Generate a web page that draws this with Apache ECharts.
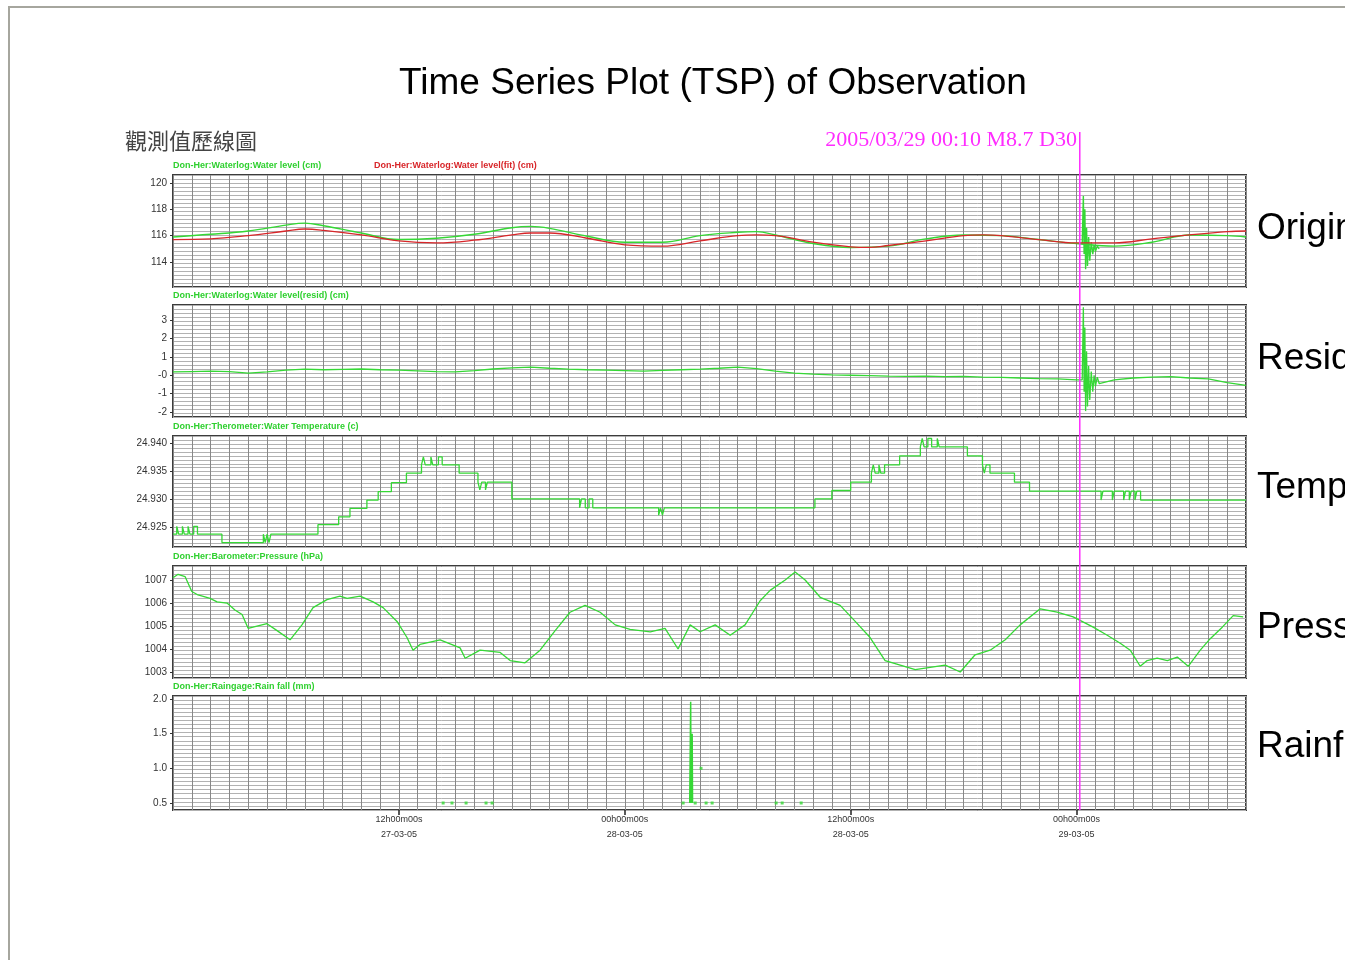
<!DOCTYPE html>
<html>
<head>
<meta charset="utf-8">
<title>Time Series Plot (TSP) of Observation</title>
<script src="https://cdn.jsdelivr.net/npm/echarts@6/dist/echarts.min.js"></script>
<style>
html, body { margin: 0; padding: 0; background: #fff; }
#chart { width: 1345px; height: 960px; }
</style>
</head>
<body>
<div id="chart"></div>
<script>
// time axis: hours counted from 27-03-05 00h00m00s
const timeTicks = [12, 24, 36, 48]
const timeTickLabels = ['12h00m00s\n27-03-05', '00h00m00s\n28-03-05', '12h00m00s\n28-03-05', '00h00m00s\n29-03-05']
const quakeHour = 48.17
const quakeText = '2005/03/29 00:10 M8.7 D30'

const panelNames = ['Original', 'Residual', 'Temperature', 'Pressure', 'Rainfall']
const panelTitles = [
  'Don-Her:Waterlog:Water level (cm)',
  'Don-Her:Waterlog:Water level(resid) (cm)',
  'Don-Her:Therometer:Water Temperature (c)',
  'Don-Her:Barometer:Pressure (hPa)',
  'Don-Her:Raingage:Rain fall (mm)',
]
const fitTitle = 'Don-Her:Waterlog:Water level(fit) (cm)'

// y tick labels per panel
const levelTicks = [114, 116, 118, 120]
const residTicks = [-2, -1, 0, 1, 2, 3]
const tempTicks = [24.925, 24.930, 24.935, 24.940]
const pressTicks = [1003, 1004, 1005, 1006, 1007]
const rainTicks = [0.5, 1.0, 1.5, 2.0]

// water level, observed
const levelHours = [0, 2, 4, 6, 7, 8, 10, 12, 14, 16, 18, 19, 20, 22, 24, 26, 28, 30, 31, 32, 34, 36, 38, 40, 42, 44, 46, 48, 50, 52, 54, 56, 57]
const levelObs = [115.9, 116.1, 116.35, 116.8, 116.95, 116.75, 116.2, 115.7, 115.8, 116.1, 116.6, 116.7, 116.55, 115.95, 115.5, 115.5, 116.0, 116.25, 116.3, 116.05, 115.4, 115.1, 115.2, 115.75, 116.05, 116.0, 115.7, 115.4, 115.2, 115.5, 116.05, 116.0, 115.9]
// water level, fitted (tide)
const fitHours = [0, 2, 4, 6, 7, 8, 10, 12, 14, 16, 18, 19, 20, 22, 24, 26, 28, 30, 31, 32, 34, 36, 37, 38, 40, 42, 43, 44, 46, 48, 50, 52, 54, 56, 57]
const fitValues = [115.7, 115.75, 116.0, 116.35, 116.5, 116.4, 116.05, 115.6, 115.45, 115.65, 116.05, 116.2, 116.2, 115.8, 115.3, 115.2, 115.6, 116.0, 116.05, 116.0, 115.5, 115.15, 115.1, 115.25, 115.6, 116.0, 116.05, 116.0, 115.7, 115.45, 115.45, 115.75, 116.05, 116.3, 116.35]
// seismic oscillation after the quake
const spikeHours = [48.3, 48.36, 48.4, 48.44, 48.48, 48.53, 48.58, 48.64, 48.7, 48.78, 48.86, 48.93, 49.0, 49.1, 49.2]
const levelSpike = [115.35, 119.0, 114.6, 118.0, 113.45, 116.6, 113.7, 115.9, 114.1, 115.5, 114.6, 115.3, 114.8, 115.2, 115.0]

// residual
const residHours = [0, 1, 2, 3, 4, 5, 6, 7, 8, 9, 10, 11, 12, 13, 14, 15, 16, 17, 18, 19, 20, 21, 22, 23, 24, 25, 26, 27, 28, 29, 30, 31, 32, 33, 34, 35, 36, 37, 38, 39, 40, 41, 42, 43, 44, 45, 46, 47, 48,
  48.3, 48.36, 48.4, 48.44, 48.48, 48.53, 48.58, 48.64, 48.7, 48.78, 48.86, 48.93,
  49, 49.1, 49.2, 50, 51, 52, 53, 54, 55, 56, 57]
const residValues = [0.18, 0.2, 0.22, 0.2, 0.12, 0.18, 0.28, 0.33, 0.3, 0.32, 0.34, 0.3, 0.28, 0.24, 0.2, 0.18, 0.25, 0.34, 0.4, 0.44, 0.38, 0.33, 0.3, 0.28, 0.25, 0.22, 0.26, 0.3, 0.33, 0.38, 0.44, 0.36, 0.22, 0.12, 0.06, 0.02, 0.0, -0.02, -0.05, -0.06, -0.05, -0.08, -0.06, -0.1, -0.12, -0.15, -0.18, -0.2, -0.25,
  -0.25, 3.7, -0.9, 2.6, -1.95, 1.3, -1.7, 0.5, -1.35, 0.2, -0.9, 0.0,
  -0.6, -0.1, -0.45, -0.25, -0.15, -0.1, -0.08, -0.15, -0.2, -0.4, -0.55]

// water temperature (stepped)
const tempHours = [0, 0.2, 0.3, 0.5, 0.6, 0.8, 0.9, 1.1, 1.3, 2.6, 4.8, 4.9, 5.0, 5.1, 5.2, 7.7, 8.8, 9.4, 10.3, 10.9, 11.6, 12.4, 13.2, 13.3, 13.4, 13.7, 13.8, 14.1, 14.3, 15.2, 16.2, 16.3, 16.4, 16.6, 16.7, 18.0, 21.6, 21.7, 21.9, 22.1, 22.3, 25.8, 25.9, 26.0, 26.1, 34.1, 35.0, 36.0, 37.1, 37.2, 37.3, 37.5, 37.6, 37.8, 38.6, 39.7, 39.8, 39.9, 40.1, 40.3, 40.6, 40.7, 42.2, 43.0, 43.1, 43.2, 43.4, 44.7, 45.5, 49.3, 49.4, 49.9, 50.0, 50.5, 50.6, 50.8, 50.9, 51.1, 51.2, 51.4, 57]
const tempValues = [24.9237, 24.9251, 24.9237, 24.9251, 24.9237, 24.9251, 24.9237, 24.9251, 24.9237, 24.9222, 24.9237, 24.9222, 24.9237, 24.9222, 24.9237, 24.9254, 24.9268, 24.9283, 24.9298, 24.9313, 24.9329, 24.9346, 24.9361, 24.9375, 24.9361, 24.9375, 24.9361, 24.9375, 24.9361, 24.9346, 24.9330, 24.9316, 24.9330, 24.9316, 24.9330, 24.9300, 24.9284, 24.9300, 24.9284, 24.9300, 24.9284, 24.9271, 24.9284, 24.9271, 24.9284, 24.9300, 24.9315, 24.9330, 24.9346, 24.9361, 24.9346, 24.9361, 24.9346, 24.9361, 24.9377, 24.9393, 24.9408, 24.9393, 24.9408, 24.9393, 24.9408, 24.9393, 24.9377, 24.9361, 24.9346, 24.9361, 24.9346, 24.9330, 24.9314, 24.9298, 24.9314, 24.9298, 24.9314, 24.9298, 24.9314, 24.9298, 24.9314, 24.9298, 24.9314, 24.9298, 24.9298]

// barometric pressure
const pressHours = [0.0, 0.27, 0.64, 1.0, 1.33, 1.97, 2.34, 2.87, 3.29, 3.67, 3.99, 4.25, 4.99, 5.53, 6.22, 6.85, 7.44, 8.18, 8.87, 9.25, 9.94, 10.63, 11.16, 11.9, 12.43, 12.75, 13.12, 14.19, 15.25, 15.52, 16.31, 17.38, 17.91, 18.7, 19.5, 20.3, 21.09, 21.89, 22.69, 23.49, 24.28, 25.35, 26.14, 26.83, 27.47, 28.0, 28.8, 29.6, 30.39, 31.19, 31.72, 32.52, 33.05, 33.58, 34.38, 35.44, 36.24, 37.03, 37.83, 38.63, 39.43, 40.22, 41.02, 41.82, 42.61, 43.41, 44.21, 45.0, 46.07, 46.97, 47.82, 48.88, 49.63, 50.32, 50.85, 51.38, 51.75, 52.28, 52.82, 53.35, 53.93, 54.57, 55.1, 55.74, 56.32, 56.85]
const pressValues = [1007.1, 1007.25, 1007.15, 1006.5, 1006.35, 1006.2, 1006.05, 1006.0, 1005.7, 1005.5, 1004.9, 1004.95, 1005.1, 1004.8, 1004.4, 1005.05, 1005.8, 1006.15, 1006.3, 1006.2, 1006.3, 1006.05, 1005.8, 1005.2, 1004.5, 1003.95, 1004.2, 1004.4, 1004.05, 1003.6, 1003.95, 1003.85, 1003.5, 1003.4, 1003.95, 1004.8, 1005.6, 1005.9, 1005.6, 1005.05, 1004.85, 1004.75, 1004.9, 1004.0, 1005.05, 1004.75, 1005.05, 1004.6, 1005.05, 1006.1, 1006.55, 1007.0, 1007.35, 1007.0, 1006.25, 1005.9, 1005.2, 1004.5, 1003.5, 1003.3, 1003.1, 1003.2, 1003.3, 1003.0, 1003.75, 1003.95, 1004.4, 1005.05, 1005.75, 1005.6, 1005.4, 1004.95, 1004.6, 1004.25, 1003.95, 1003.25, 1003.5, 1003.6, 1003.5, 1003.65, 1003.25, 1003.95, 1004.45, 1004.95, 1005.45, 1005.4]

// rainfall
const rainDotHours = [14.35, 14.82, 15.57, 16.63, 16.95, 27.1, 27.74, 28.05, 28.32, 28.64, 32.04, 32.36, 33.37]
const rainDotValues = [0.5, 0.5, 0.5, 0.5, 0.5, 0.5, 0.5, 1.0, 0.5, 0.5, 0.5, 0.5, 0.5]
const rainSpikeHours = [27.45, 27.5, 27.52, 27.54, 27.55, 27.56, 27.57, 27.58, 27.6]
const rainSpikeValues = [0.5, 1.96, 0.5, 1.5, 1.0, 1.5, 1.0, 1.5, 0.5]

const zip = (xs, ys) => xs.map((x, i) => [x, ys[i]])

// Layout
const LEFT = 173
const RIGHT = 99
const panels = [
  { top: 175, height: 112, min: 112.1, max: 120.6, ticks: levelTicks, fmt: v => String(v), nameY: 229 },
  { top: 305, height: 112, min: -2.27, max: 3.82, ticks: residTicks, fmt: v => (v === 0 ? '-0' : String(v)), nameY: 359 },
  { top: 436, height: 111, min: 24.9214, max: 24.94125, ticks: tempTicks, fmt: v => v.toFixed(3), nameY: 488 },
  { top: 566, height: 112, min: 1002.74, max: 1007.61, ticks: pressTicks, fmt: v => String(v), nameY: 628 },
  { top: 696, height: 114, min: 0.399, max: 2.043, ticks: rainTicks, fmt: v => v.toFixed(1), nameY: 747 },
]
const GREEN = '#35d835'
const RED = '#d8262a'
const MAGENTA = '#ff2cff'
const FONT = 'Arial, "Liberation Sans", sans-serif'

const grids = panels.map(p => ({
  left: LEFT, right: RIGHT, top: p.top, height: p.height,
  show: true, borderColor: '#3c3c3c', borderWidth: 2,
}))
grids.push({ left: LEFT, right: RIGHT, top: 132, bottom: 150 })

const xAxes = panels.map((p, i) => ({
  gridIndex: i, type: 'value', min: 0, max: 57, interval: 1,
  axisLine: { show: false }, axisTick: { show: false }, axisLabel: { show: false },
  splitLine: { show: true, lineStyle: { color: '#888', width: 1 } },
}))
// time labels under the last panel
xAxes.push({
  gridIndex: 4, type: 'value', min: 0, max: 57, position: 'bottom',
  axisLine: { show: false }, splitLine: { show: false },
  axisTick: { show: true, customValues: timeTicks, length: 5, lineStyle: { color: '#222', width: 1.5 } },
  axisLabel: {
    customValues: timeTicks,
    formatter: v => timeTickLabels[timeTicks.indexOf(v)],
    fontSize: 9, color: '#333', lineHeight: 15, margin: 2, fontFamily: FONT,
  },
})
xAxes.push({ gridIndex: 5, type: 'value', min: 0, max: 57, show: false })

const yAxes = panels.map((p, i) => ({
  gridIndex: i, type: 'value', min: p.min, max: p.max,
  axisLine: { show: false }, splitLine: { show: false },
  axisTick: { show: true, customValues: p.ticks, length: 3, lineStyle: { color: '#333' } },
  axisLabel: { customValues: p.ticks, formatter: p.fmt, fontSize: 10, color: '#333', margin: 6, fontFamily: FONT },
}))
panels.forEach((p, i) => {
  yAxes.push({
    gridIndex: i, type: 'value', min: 0, max: 28, interval: 1,
    axisLine: { show: false }, axisTick: { show: false }, axisLabel: { show: false },
    splitLine: { show: true, lineStyle: { color: '#b2b2b2', width: 1 } },
  })
})
yAxes.push({ gridIndex: 5, type: 'value', min: 0, max: 1, show: false })

const lineBase = { type: 'line', symbol: 'none', silent: true }

const series = [
  { ...lineBase, name: 'level', xAxisIndex: 0, yAxisIndex: 0, smooth: 0.4, data: zip(levelHours, levelObs),
    lineStyle: { color: GREEN, width: 1.4 } },
  { ...lineBase, name: 'level spike', xAxisIndex: 0, yAxisIndex: 0, data: zip(spikeHours, levelSpike),
    lineStyle: { color: GREEN, width: 1.4 } },
  { ...lineBase, name: 'fit', xAxisIndex: 0, yAxisIndex: 0, smooth: 0.4, data: zip(fitHours, fitValues),
    lineStyle: { color: RED, width: 1.3 } },
  { ...lineBase, name: 'resid', xAxisIndex: 1, yAxisIndex: 1, data: zip(residHours, residValues),
    lineStyle: { color: GREEN, width: 1.3 } },
  { ...lineBase, name: 'temp', xAxisIndex: 2, yAxisIndex: 2, step: 'end', data: zip(tempHours, tempValues),
    lineStyle: { color: GREEN, width: 1.3 } },
  { ...lineBase, name: 'pressure', xAxisIndex: 3, yAxisIndex: 3, data: zip(pressHours, pressValues),
    lineStyle: { color: GREEN, width: 1.3 } },
  { type: 'scatter', name: 'rain', xAxisIndex: 4, yAxisIndex: 4, symbol: 'rect', symbolSize: 3, silent: true,
    itemStyle: { color: GREEN }, data: zip(rainDotHours, rainDotValues) },
  { ...lineBase, name: 'rain spike', xAxisIndex: 4, yAxisIndex: 4, data: zip(rainSpikeHours, rainSpikeValues),
    lineStyle: { color: GREEN, width: 1.5 } },
  { ...lineBase, name: 'quake', xAxisIndex: 6, yAxisIndex: 10, z: 10, data: [[quakeHour, 0], [quakeHour, 1]],
    lineStyle: { color: MAGENTA, width: 1.5 } },
]

const text = (x, y, str, style) => ({
  type: 'text', x, y, silent: true,
  style: Object.assign({ text: str, fontFamily: FONT, textVerticalAlign: 'middle' }, style),
})

const graphics = [
  { type: 'rect', shape: { x: 9, y: 7, width: 1400, height: 1000 }, style: { fill: 'none', stroke: '#a6a69e', lineWidth: 2 }, silent: true },
  text(713, 84, 'Time Series Plot (TSP) of Observation', { fontSize: 37, fill: '#000', textAlign: 'center' }),
  text(125, 141, '觀測值歷線圖', { fontSize: 22, fill: '#444', fontFamily: '"Noto Sans CJK TC", sans-serif' }),
  text(1077, 140, quakeText, { fontSize: 22, fill: MAGENTA, textAlign: 'right', fontFamily: '"Liberation Serif", "DejaVu Serif", serif' }),
  text(374, panels[0].top - 9, fitTitle, { fontSize: 9, fontWeight: 'bold', fill: RED }),
]
panels.forEach((p, i) => {
  graphics.push(text(LEFT, p.top - 9, panelTitles[i], { fontSize: 9, fontWeight: 'bold', fill: '#2fd02f' }))
  graphics.push(text(1257, p.nameY, panelNames[i], { fontSize: 37, fill: '#000' }))
})

const chart = echarts.init(document.getElementById('chart'))
chart.setOption({
  animation: false,
  backgroundColor: '#fff',
  textStyle: { fontFamily: FONT },
  grid: grids,
  xAxis: xAxes,
  yAxis: yAxes,
  series,
  graphic: graphics,
})
</script>
</body>
</html>
